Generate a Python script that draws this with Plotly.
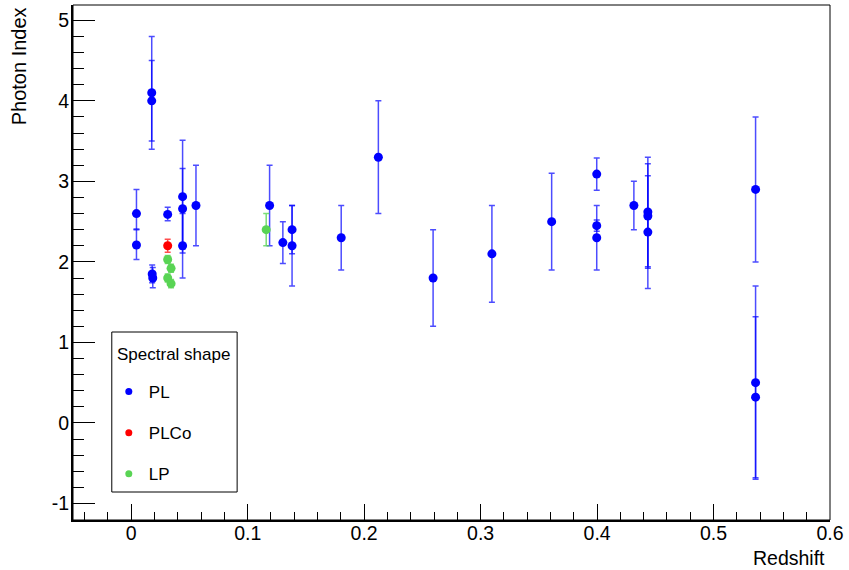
import plotly.graph_objects as go

# ---- data ----
pl_z = [0.0045, 0.0045, 0.0176, 0.0176, 0.018, 0.0185, 0.0313, 0.0441, 0.0441, 0.0441,
        0.0556, 0.1188, 0.1302, 0.1381, 0.1381, 0.1803, 0.2122, 0.2592, 0.3097, 0.3610,
        0.3997, 0.3997, 0.3997, 0.4316, 0.4436, 0.4436, 0.4436, 0.5361, 0.5361, 0.5361]
pl_gamma = [2.60, 2.21, 4.10, 4.00, 1.85, 1.80, 2.59, 2.81, 2.66, 2.20,
            2.70, 2.70, 2.24, 2.40, 2.20, 2.30, 3.30, 1.80, 2.10, 2.50,
            3.09, 2.45, 2.30, 2.70, 2.62, 2.57, 2.37, 2.90, 0.50, 0.32]
pl_err_hi = [0.30, 0.20, 0.70, 0.50, 0.11, 0.13, 0.09, 0.70, 0.50, 0.40,
             0.50, 0.50, 0.26, 0.30, 0.50, 0.40, 0.70, 0.60, 0.60, 0.60,
             0.20, 0.07, 0.40, 0.30, 0.68, 0.65, 0.70, 0.90, 1.20, 1.00]
pl_err_lo = [0.20, 0.18, 0.70, 0.50, 0.11, 0.12, 0.08, 0.70, 0.50, 0.40,
             0.50, 0.50, 0.26, 0.30, 0.50, 0.40, 0.70, 0.60, 0.60, 0.60,
             0.20, 0.07, 0.40, 0.30, 0.68, 0.65, 0.70, 0.90, 1.20, 1.00]

plco_z = [0.0313]
plco_gamma = [2.20]
plco_err = [0.08]

lp_z = [0.0313, 0.0342, 0.0313, 0.0342, 0.1159]
lp_gamma = [2.03, 1.92, 1.80, 1.73, 2.40]
lp_err = [0.05, 0.05, 0.05, 0.05, 0.20]

series_names = ["PL", "PLCo", "LP"]
legend_title = "Spectral shape"

x_tick_vals = [0, 0.1, 0.2, 0.3, 0.4, 0.5, 0.6]
x_tick_text = ["0", "0.1", "0.2", "0.3", "0.4", "0.5", "0.6"]
y_tick_vals = [-1, 0, 1, 2, 3, 4, 5]
y_tick_text = ["-1", "0", "1", "2", "3", "4", "5"]

x_title = "Redshift"
y_title = "Photon Index"

# ---- styling ----
BLUE = "rgb(0,0,255)"
RED = "rgb(255,0,0)"
GREEN = "rgb(89,212,84)"
FONT = "Liberation Sans, Arial, Helvetica, sans-serif"

W, H = 849, 570
L, R, T, B = 73, 15, 5, 50
PW, PH = W - L - R, H - T - B


def px_x(p):
    return (p - L) / PW


def px_y(p):
    return (H - B - p) / PH


fig = go.Figure()


def add_series(z, g, ehi, elo, color, barcolor):
    fig.add_trace(go.Scatter(
        x=z, y=g, mode="markers", showlegend=False,
        marker=dict(color=color, size=9, symbol="circle", line=dict(width=0)),
        error_y=dict(type="data", symmetric=False, array=ehi, arrayminus=elo,
                     color=barcolor, thickness=1.5, width=3),
    ))


add_series(pl_z, pl_gamma, pl_err_hi, pl_err_lo, BLUE, "rgba(0,0,255,0.7)")
add_series(plco_z, plco_gamma, plco_err, plco_err, RED, "rgba(255,0,0,0.7)")
add_series(lp_z, lp_gamma, lp_err, lp_err, GREEN, "rgba(89,212,84,0.8)")

# legend-only entries
for name, col in zip(series_names, [BLUE, RED, GREEN]):
    fig.add_trace(go.Scatter(
        x=[None], y=[None], mode="markers", name=name, legendgroup=name,
        marker=dict(color=col, size=7),
    ))

fig.update_layout(
    width=W, height=H,
    margin=dict(l=L, r=R, t=T, b=B),
    paper_bgcolor="white", plot_bgcolor="white",
    font=dict(family=FONT, color="black", size=19.5),
    legend=dict(
        x=px_x(109), y=px_y(374), xanchor="left", yanchor="top",
        bgcolor="rgba(0,0,0,0)", borderwidth=0,
        font=dict(family=FONT, size=17, color="black"),
        tracegroupgap=16, itemsizing="trace",
    ),
    showlegend=True,
)

fig.update_xaxes(
    range=[-0.05, 0.6], showgrid=False, zeroline=False,
    showline=True, linecolor="black", linewidth=2, mirror=False,
    tickmode="array", tickvals=x_tick_vals, ticktext=x_tick_text,
    ticks="inside", ticklen=16, tickwidth=1.2, tickcolor="black",
    ticklabelstandoff=-5,
    tickfont=dict(family=FONT, size=19.5, color="black"),
    minor=dict(tickmode="linear", tick0=0, dtick=0.02, ticks="inside",
               ticklen=8, tickwidth=1, tickcolor="black", showgrid=False),
)
fig.update_yaxes(
    range=[-1.205, 5.19], showgrid=False, zeroline=False,
    showline=True, linecolor="black", linewidth=2, mirror=False,
    tickmode="array", tickvals=y_tick_vals, ticktext=y_tick_text,
    ticks="inside", ticklen=22, tickwidth=1.2, tickcolor="black",
    ticklabelstandoff=-2,
    tickfont=dict(family=FONT, size=19.5, color="black"),
    minor=dict(tickmode="linear", tick0=0, dtick=0.2, ticks="inside",
               ticklen=11, tickwidth=1, tickcolor="black", showgrid=False),
)

# frame and legend box
fig.add_shape(type="rect", xref="paper", yref="paper", x0=0, y0=0, x1=1, y1=1,
              line=dict(color="black", width=1))
fig.add_shape(type="rect", xref="paper", yref="paper",
              x0=px_x(112), x1=px_x(238), y0=px_y(492), y1=px_y(332),
              line=dict(color="black", width=1), fillcolor="white", layer="below")

fig.add_annotation(text=legend_title, xref="paper", yref="paper",
                   x=px_x(115), y=px_y(355), xanchor="left", yanchor="middle",
                   showarrow=False, font=dict(family=FONT, size=17, color="black"))

fig.add_annotation(text=x_title, xref="paper", yref="paper",
                   x=px_x(831), y=px_y(558), xanchor="right", yanchor="middle",
                   showarrow=False, font=dict(family=FONT, size=19.5, color="black"))
fig.add_annotation(text=y_title, xref="paper", yref="paper", textangle=-90,
                   x=px_x(19), y=px_y(5), xanchor="center", yanchor="top",
                   showarrow=False, font=dict(family=FONT, size=20, color="black"))

fig.write_html("out.html", config={"displayModeBar": False},
               post_script="document.body.style.margin='0px';")
